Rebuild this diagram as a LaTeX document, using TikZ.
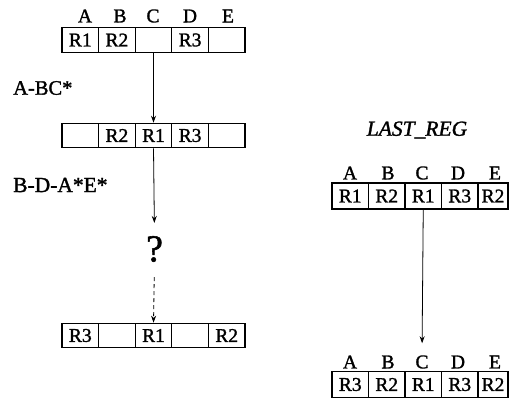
\documentclass[tikz,border=0pt]{standalone}
\usepackage{fontspec}
\setmainfont{Liberation Serif}[FakeBold=1.4]
\usetikzlibrary{arrows.meta}
\begin{document}
\begin{tikzpicture}[x=1pt,y=-1pt,
 cell/.style={draw,line width=1.1pt,minimum height=24.5pt,minimum width=36.6pt,inner sep=0pt,font=\fontsize{19.5}{19.5}\selectfont,anchor=center},
 rcell/.style={cell,minimum height=26pt,minimum width=36.5pt},
 hdr/.style={font=\fontsize{19.5}{19.5}\selectfont,inner sep=0pt},
 lbl/.style={font=\fontsize{20.5}{20.5}\selectfont,anchor=west,inner sep=0pt},
 arr/.style={-{Stealth[length=7pt,width=5pt]},line width=0.8pt}]
\useasboundingbox (0,0) rectangle (510,399);
% left top
\node[hdr] (hA) at (85,16) {A};
\node[hdr] (hB) at (120,16) {B};
\node[hdr] (hC) at (153,16) {C};
\node[hdr] (hD) at (190,16) {D};
\node[hdr] (hE) at (228,16) {E};
\node[cell] (t1) at (80.3,40) {R1};
\node[cell] (t2) at (116.9,40) {R2};
\node[cell] (t3) at (153.5,40) {};
\node[cell] (t4) at (190.1,40) {R3};
\node[cell] (t5) at (226.7,40) {};
% left middle
\node[cell] (m1) at (80.3,135.5) {};
\node[cell] (m2) at (116.9,135.5) {R2};
\node[cell] (m3) at (153.5,135.5) {R1};
\node[cell] (m4) at (190.1,135.5) {R3};
\node[cell] (m5) at (226.7,135.5) {};
% left bottom
\node[cell] (b1) at (80.3,335.5) {R3};
\node[cell] (b2) at (116.9,335.5) {};
\node[cell] (b3) at (153.5,335.5) {R1};
\node[cell] (b4) at (190.1,335.5) {};
\node[cell] (b5) at (226.7,335.5) {R2};
% labels
\node[lbl] (l1) at (13,88) {A-BC*};
\node[lbl,font=\fontsize{21.5}{21.5}\selectfont] (l2) at (13,185) {B-D-A*E*};
\node[inner sep=0pt,font=\fontsize{38}{38}\selectfont] (q) at (154.5,249) {?};
% arrows left
\draw[arr] (t3.south) -- (m3.north);
\draw[arr,shorten >=13pt] (m3.south) -- (q.north);
\draw[arr,dashed,dash pattern=on 4pt off 3pt,shorten <=15pt] (q.south) -- (b3.north);
% right
\node[inner sep=0pt,font=\fontsize{21.5}{21.5}\selectfont\itshape] (lr) at (417,130) {LAST\_REG};
\node[hdr] (rA) at (350,173) {A};
\node[hdr] (rB) at (388,173) {B};
\node[hdr] (rC) at (422,173) {C};
\node[hdr] (rD) at (458,173) {D};
\node[hdr] (rE) at (495,173) {E};
\node[rcell] (r1) at (350.25,196) {R1};
\node[rcell] (r2) at (386.75,196) {R2};
\node[rcell] (r3) at (423.25,196) {R1};
\node[rcell] (r4) at (459.75,196) {R3};
\node[rcell,minimum width=30pt] (r5) at (493,196) {R2};
\node[hdr] (sA) at (350,362) {A};
\node[hdr] (sB) at (388,362) {B};
\node[hdr] (sC) at (422,362) {C};
\node[hdr] (sD) at (458,362) {D};
\node[hdr] (sE) at (495,362) {E};
\node[rcell] (s1) at (350.25,384.5) {R3};
\node[rcell] (s2) at (386.75,384.5) {R2};
\node[rcell] (s3) at (423.25,384.5) {R1};
\node[rcell] (s4) at (459.75,384.5) {R3};
\node[rcell,minimum width=30pt] (s5) at (493,384.5) {R2};
\draw[arr,shorten >=12pt] (r3.south) -- (sC.north);
\end{tikzpicture}
\end{document}
